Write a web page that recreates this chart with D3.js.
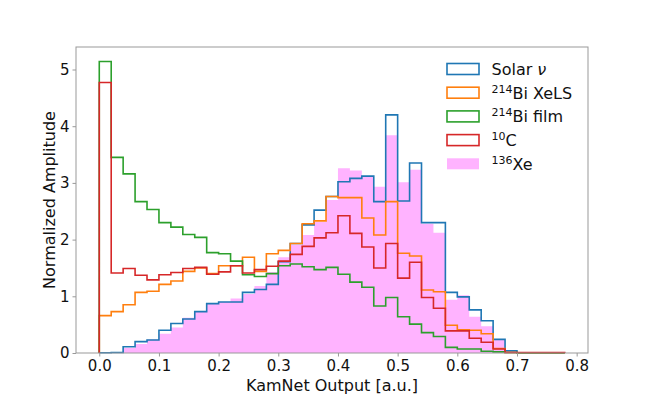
<!DOCTYPE html>
<html>
<head>
<meta charset="utf-8">
<script src="https://cdn.jsdelivr.net/npm/d3@7"></script>
<style>
  body { margin: 0; background: #fff; }
  text { font-family: "DejaVu Sans", sans-serif; fill: #111; }
</style>
</head>
<body>
<div id="canvas"></div>
<script>
var width = 646;
var height = 397;

// bin edges: 0.00 .. 0.78 step 0.02
var binStart = 0;
var binWidth = 0.02;

var solar = [0.005, 0.01, 0.11, 0.20, 0.23, 0.40, 0.52, 0.60, 0.73, 0.87,
    0.90, 0.90, 1.07, 1.12, 1.21, 1.61, 1.93, 2.26, 2.52, 2.76,
    3.02, 3.08, 3.12, 2.67, 4.20, 2.68, 3.35, 2.30, 2.30, 1.07,
    0.99, 0.76, 0.57, 0.24, 0.04, 0.005, 0, 0, 0];
var biXels = [0.66, 0.73, 0.85, 1.07, 1.09, 1.21, 1.27, 1.44, 1.50, 1.40,
    1.54, 1.54, 1.69, 1.44, 1.75, 1.81, 1.93, 2.28, 2.33, 2.76,
    2.74, 2.74, 2.38, 2.08, 2.67, 1.76, 1.71, 1.11, 1.08, 0.49,
    0.41, 0.40, 0.34, 0.08, 0.01, 0, 0, 0, 0];
var biFilm = [5.14, 3.45, 3.16, 2.67, 2.53, 2.30, 2.22, 2.09, 2.04, 1.77,
    1.75, 1.62, 1.38, 1.35, 1.40, 1.54, 1.57, 1.52, 1.47, 1.51,
    1.39, 1.25, 1.16, 0.83, 0.98, 0.64, 0.51, 0.36, 0.29, 0.10,
    0.07, 0.07, 0.03, 0.02, 0.01, 0, 0, 0, 0];
var c10 = [4.77, 1.41, 1.49, 1.37, 1.29, 1.38, 1.42, 1.49, 1.51, 1.39,
    1.43, 1.54, 1.41, 1.47, 1.53, 1.62, 1.74, 1.88, 2.03, 2.12,
    2.42, 2.11, 1.87, 1.50, 1.93, 1.32, 1.60, 0.98, 0.79, 0.39,
    0.39, 0.26, 0.19, 0.07, 0.01, 0.01, 0.01, 0.01, 0.01];
var xe136 = [0, 0, 0.09, 0.16, 0.24, 0.34, 0.45, 0.62, 0.73, 0.87,
    0.90, 0.96, 1.04, 1.18, 1.43, 1.69, 1.91, 2.08, 2.31, 2.70,
    3.26, 3.22, 3.12, 2.93, 3.84, 3.01, 3.23, 2.28, 2.12, 0.94,
    1.02, 0.64, 0.47, 0.24, 0.04, 0.01, 0.01, 0.01, 0.01];

var xTicks = [0.0, 0.1, 0.2, 0.3, 0.4, 0.5, 0.6, 0.7, 0.8];
var yTicks = [0, 1, 2, 3, 4, 5];

var stepSeries = [
    { sup: '', name: 'Solar ', italic: 'ν', values: solar, color: '#1f77b4' },
    { sup: '214', name: 'Bi XeLS', values: biXels, color: '#ff7f0e' },
    { sup: '214', name: 'Bi film', values: biFilm, color: '#2ca02c' },
    { sup: '10', name: 'C', values: c10, color: '#d62728' }
];
var fillSeries = { sup: '136', name: 'Xe', values: xe136, color: '#ffb3ff' };

var plot = { left: 76, right: 588, top: 47, bottom: 353 };
var svg;

draw();

function draw() {
    svg = d3.select('#canvas')
        .append('svg')
        .attr('width', width)
        .attr('height', height);
    svg.append('rect')
        .attr('width', width)
        .attr('height', height)
        .style('fill', 'white');

    var nBins = solar.length;
    var binEnd = binStart + nBins * binWidth;
    var xPad = (binEnd - binStart) * 0.05;
    var x = d3.scaleLinear()
        .domain([binStart - xPad, binEnd + xPad])
        .range([plot.left, plot.right]);
    var y = d3.scaleLinear()
        .domain([0, d3.max(biFilm) * 1.05])
        .range([plot.bottom, plot.top]);

    function edges(values) {
        var pts = values.map(function (v, i) { return [binStart + i * binWidth, v]; });
        pts.push([binEnd, values[values.length - 1]]);
        return pts;
    }

    // filled histogram first
    var area = d3.area()
        .curve(d3.curveStepAfter)
        .x(function (d) { return x(d[0]); })
        .y0(y(0))
        .y1(function (d) { return y(d[1]); });
    svg.append('path')
        .attr('d', area(edges(fillSeries.values)))
        .style('fill', fillSeries.color);

    // step outlines
    var line = d3.line()
        .x(function (d) { return x(d[0]); })
        .y(function (d) { return y(d[1]); });
    stepSeries.forEach(function (s) {
        var pts = [[binStart, 0]];
        s.values.forEach(function (v, i) {
            pts.push([binStart + i * binWidth, v]);
            pts.push([binStart + (i + 1) * binWidth, v]);
        });
        pts.push([binEnd, 0]);
        svg.append('path')
            .attr('d', line(pts))
            .style('fill', 'none')
            .style('stroke', s.color)
            .style('stroke-width', 1.6)
            .style('stroke-linejoin', 'miter');
    });

    // frame
    svg.append('rect')
        .attr('x', plot.left)
        .attr('y', plot.top)
        .attr('width', plot.right - plot.left)
        .attr('height', plot.bottom - plot.top)
        .style('fill', 'none')
        .style('stroke', '#999')
        .style('stroke-width', 1);

    // axes
    var xAxis = svg.append('g')
        .attr('transform', 'translate(0,' + plot.bottom + ')')
        .call(d3.axisBottom(x).tickValues(xTicks).tickFormat(d3.format('.1f')).tickSize(3.5).tickPadding(4));
    var yAxis = svg.append('g')
        .attr('transform', 'translate(' + plot.left + ',0)')
        .call(d3.axisLeft(y).tickValues(yTicks).tickFormat(d3.format('d')).tickSize(3.5).tickPadding(3));
    [xAxis, yAxis].forEach(function (a) {
        a.select('.domain').remove();
        a.selectAll('.tick line').style('stroke', '#999');
        a.selectAll('.tick text')
            .style('font-family', '"DejaVu Sans", sans-serif')
            .style('font-size', '15px')
            .style('fill', '#111');
    });

    svg.append('text')
        .attr('x', (plot.left + plot.right) / 2)
        .attr('y', 391)
        .attr('text-anchor', 'middle')
        .style('font-size', '16px')
        .text('KamNet Output [a.u.]');
    svg.append('text')
        .attr('transform', 'translate(55,' + (plot.top + plot.bottom) / 2 + ') rotate(-90)')
        .attr('text-anchor', 'middle')
        .style('font-size', '16px')
        .text('Normalized Amplitude');

    // legend
    var legendItems = stepSeries.concat([fillSeries]);
    legendItems.forEach(function (s, i) {
        var ly = 63.5 + i * 23.7;
        var r = svg.append('rect')
            .attr('x', 447)
            .attr('y', ly)
            .attr('width', 32)
            .attr('height', 11);
        if (s === fillSeries) {
            r.style('fill', s.color);
        } else {
            r.style('fill', 'none').style('stroke', s.color).style('stroke-width', 1.6);
        }
        var t = svg.append('text')
            .attr('x', 491.5)
            .attr('y', ly + 11.5)
            .style('font-size', '16px');
        if (s.sup) {
            t.append('tspan').attr('dy', -6).style('font-size', '11px').text(s.sup);
            t.append('tspan').attr('dy', 6).text(s.name);
        } else {
            t.append('tspan').text(s.name);
        }
        if (s.italic) {
            t.append('tspan').style('font-style', 'italic').text(s.italic);
        }
    });
}
</script>
</body>
</html>
